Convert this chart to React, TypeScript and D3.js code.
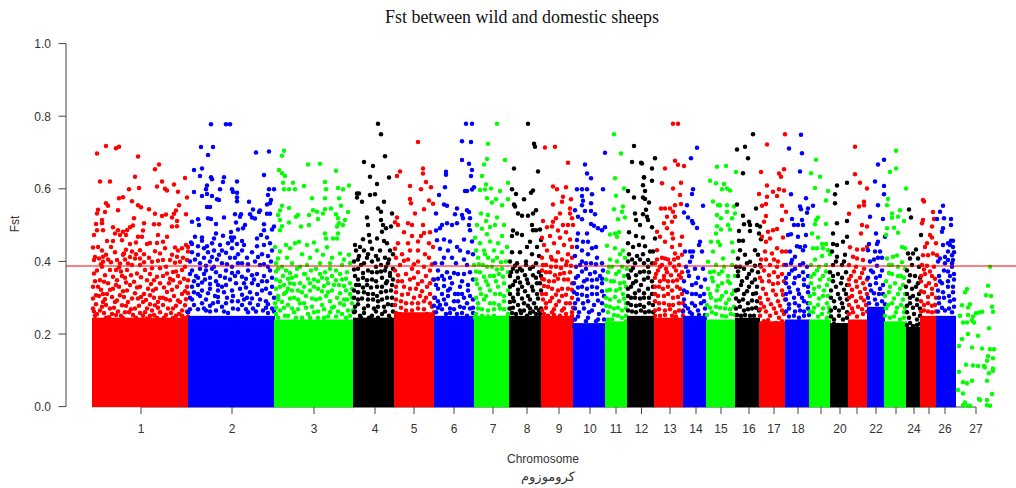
import React from "react";
import * as d3 from "d3";

const title = "Fst between wild and domestic sheeps";
const yTicks = [0, 0.2, 0.4, 0.6, 0.8, 1.0];
const threshold = 0.3873;
const chromNames = Array.from({ length: 27 }, (_, i) => String(i + 1));
const hiddenLabels = ["19", "21", "23", "25"];
// positions along the genome axis
const chromStarts = [0, 96, 182, 261, 302, 342, 382, 417, 449, 481, 513, 535, 562, 591, 614, 643, 667, 693, 717, 738, 756, 775, 792, 814, 828, 844];
const chromEnds = [97, 183, 262, 303, 343, 383, 418, 450, 482, 514, 536, 563, 592, 615, 644, 668, 694, 718, 739, 757, 776, 793, 815, 829, 845, 864];
const chromTicks = [49, 140, 222, 283, 322, 362, 401, 435, 467, 498, 524, 549.5, 578, 604, 629, 657, 682, 706, 729, 748, 765, 784, 804, 822, 837, 853, 884];
// level under which each chromosome's points merge into a solid mass
const denseTops = [0.245, 0.25, 0.24, 0.245, 0.26, 0.25, 0.25, 0.25, 0.25, 0.23, 0.235, 0.25, 0.245, 0.25, 0.24, 0.245, 0.235, 0.24, 0.24, 0.23, 0.24, 0.275, 0.235, 0.22, 0.25, 0.25];
const palette = ["#ff0000", "#0000ff", "#00ff00", "#000000"];

const chr1 = [[5,.697],[14,.718],[24,.712],[27,.716],[46,.689],[67,.667],[63,.654],[43,.633],[93,.63],[8,.62],[18,.62],[70,.62],[82,.612],[65,.606],[37,.599],[47,.602],[73,.6],[75,.595],[86,.592],[95,.576],[31,.577],[27,.574],[40,.566],[14,.56],[26,.541],[16,.553],[46,.555],[49,.549],[57,.544],[87,.555],[6,.542],[5,.532],[13,.536],[84,.54],[82,.531],[63,.531],[74,.529],[70,.525],[94,.53],[42,.519],[10,.514],[80,.521],[67,.502],[62,.502],[4,.503],[52,.505],[85,.511],[85,.497],[10,.505],[80,.496],[41,.499],[38,.494],[35,.486],[21,.494],[26,.486],[31,.482],[5,.486],[11,.486],[2,.473],[51,.485],[66,.473],[75,.468],[28,.473],[50,.468],[46,.468],[23,.477],[34,.473],
[15,.456],[21,.456],[44,.452],[71,.454],[58,.451],[65,.451],[38,.448],[55,.448],[30,.458],[1,.438],[6,.44],[19,.44],[94,.445],[96,.44],[83,.438],[90,.436],[73,.436],[48,.431],[40,.427],[32,.422],[31,.418],[44,.42],[68,.422],[96,.427],[85,.413],[11,.413],[7,.408],[2,.404],[25,.404],[43,.408],[48,.408],[60,.399],[78,.404],[71,.404],[11,.399],[10,.385],[28,.394],[36,.394],[40,.39],[48,.39],[68,.381],[60,.381],[88,.399],[95,.404],[18,.376],[24,.376],[2,.367],[8,.348],[35,.376],[53,.376],[81,.371],[90,.376],[75,.367],[65,.358],[45,.367],[12,.344],[1,.33],[16,.34],[25,.348],[42,.344],[55,.348],[68,.34],[81,.348],[95,.33],[96,.348],[6,.33],[35,.32],[21,.325],[48,.33],[61,.32],[75,.316],[85,.33],[15,.31],[4,.307],[28,.307],[43,.312],[58,.307],[96,.312],[11,.288],[23,.288],[36,.288],[51,.288],[78,.293],[88,.288],[1,.27],[10,.275],[18,.27],[30,.279],[43,.27],[63,.279],[81,.27],[93,.279],[5,.255],[20,.255],[37,.26],[51,.25],[68,.26],[87,.255],[72,.245],[14,.245],[29,.25],[58,.25],[92,.245],[3,.25],[44,.245],[34,.342],[56,.325],[71,.3],[90,.31],[46,.298],[68,.3],[24,.335],[10,.43],[16,.405],[33,.405],[52,.42],[86,.43],[77,.34],[86,.36],[30,.36],[11,.31],[33,.26],[76,.27],[55,.27]];
const chr1x = [[3,.412],[9,.392],[14,.418],[19,.398],[23,.425],[27,.383],[34,.432],[38,.412],[52,.398],[57,.41],[63,.428],[66,.402],[74,.385],[80,.418],[83,.396],[91,.41],[93,.385],[5,.375],[13,.362],[21,.358],[29,.372],[33,.355],[39,.362],[49,.356],[58,.365],[62,.348],[71,.36],[78,.352],[84,.372],[92,.352],[3,.345],[9,.322],[18,.322],[27,.33],[31,.318],[38,.335],[45,.328],[52,.31],[59,.338],[64,.325],[72,.328],[80,.322],[88,.342],[93,.318],[1,.298],[7,.305],[13,.296],[20,.302],[25,.292],[32,.302],[40,.298],[49,.302],[54,.294],[62,.3],[66,.288],[74,.296],[82,.305],[86,.292],[94,.296],[4,.282],[8,.265],[14,.28],[22,.272],[26,.262],[34,.278],[39,.268],[47,.278],[53,.26],[58,.282],[60,.265],[66,.272],[71,.28],[79,.258],[84,.278],[90,.265],[95,.262],[2,.262],[12,.258],[17,.246],[24,.252],[31,.244],[41,.252],[48,.258],[55,.243],[62,.252],[65,.245],[74,.252],[81,.244],[84,.25],[90,.25],[96,.248]];

const chr2 = [[119,.778],[134,.778],[138,.778],[109,.715],[121,.715],[116,.693],[164,.7],[177,.703],[102,.652],[110,.656],[108,.635],[119,.632],[120,.626],[132,.632],[131,.619],[145,.62],[172,.638],[115,.609],[114,.599],[102,.591],[128,.599],[140,.599],[141,.591],[145,.589],[177,.599],[182,.599],[176,.583],[115,.586],[110,.58],[120,.58],[125,.571],[127,.569],[145,.576],[145,.566],[157,.564],[179,.569],[175,.557],[178,.56],[115,.55],[118,.55],[168,.54],[167,.536],[161,.543],[143,.53],[149,.53],[148,.523],[158,.53],[160,.521],[163,.518],[175,.531],[178,.531],[132,.521],[116,.519],[119,.517],[100,.509],[106,.516],[107,.5],[124,.503],[144,.507],[172,.502],[182,.496],[180,.488],[172,.486],[153,.5],[151,.491],[146,.488],[139,.481],[124,.477],[131,.471],[122,.463],[103,.468],[110,.466],[110,.457],[139,.466],[142,.466],[140,.457],[150,.456],[165,.463],[169,.473],[175,.466],[99,.452],[100,.448],[106,.442],[115,.442],[120,.45],[128,.445],[136,.45],[145,.448],[152,.445],[165,.442],[178,.45],[172,.445],
[112,.436],[122,.43],[130,.43],[140,.436],[150,.43],[160,.425],[170,.42],[180,.43],[98,.4],[103,.405],[112,.41],[118,.4],[125,.405],[135,.392],[143,.41],[150,.395],[163,.4],[172,.392],[179,.4],[100,.375],[108,.38],[120,.38],[128,.36],[146,.37],[156,.375],[165,.365],[178,.375],[102,.345],[113,.35],[124,.345],[133,.355],[143,.36],[152,.34],[162,.35],[175,.345],[100,.33],[110,.32],[118,.325],[130,.33],[140,.32],[148,.325],[158,.315],[170,.32],[180,.33],[98,.3],[106,.31],[114,.295],[123,.305],[135,.3],[146,.29],[155,.3],[165,.31],[174,.29],[182,.3],[102,.28],[112,.27],[121,.285],[130,.275],[141,.27],[150,.28],[161,.27],[171,.265],[180,.27],[96,.26],[118,.262],[136,.258],[156,.26],[176,.258],[126,.32],[160,.34],[106,.355],[172,.36],[138,.41],[114,.375],[138,.35]];
const chr2x = [[100,.425],[106,.418],[116,.425],[120,.412],[127,.418],[134,.424],[146,.42],[155,.41],[166,.412],[176,.415],[108,.395],[114,.388],[122,.385],[130,.395],[140,.385],[146,.395],[156,.392],[168,.39],[176,.385],[98,.365],[104,.36],[112,.365],[118,.355],[124,.37],[134,.375],[140,.368],[150,.358],[154,.352],[160,.362],[170,.345],[180,.355],[106,.335],[110,.342],[118,.338],[126,.335],[134,.335],[144,.34],[154,.328],[166,.335],[174,.325],[102,.315],[108,.305],[116,.312],[126,.302],[132,.315],[141,.305],[150,.308],[160,.298],[168,.295],[178,.312],[100,.295],[110,.285],[118,.278],[126,.288],[134,.285],[140,.29],[152,.295],[158,.285],[166,.28],[176,.282],[98,.268],[106,.268],[114,.265],[124,.265],[132,.262],[146,.268],[154,.268],[164,.262],[174,.272],[182,.262]];

const chr3 = [[192,.705],[190,.691],[216,.667],[228,.669],[244,.65],[187,.652],[190,.643],[193,.635],[191,.617],[201,.617],[233,.619],[212,.608],[257,.609],[192,.599],[197,.599],[203,.599],[234,.599],[246,.602],[251,.599],[220,.574],[233,.574],[247,.574],[249,.553],[190,.553],[197,.547],[239,.546],[233,.544],[188,.54],[221,.541],[225,.537],[256,.536],[186,.528],[206,.528],[204,.523],[217,.528],[231,.532],[244,.53],[246,.519],[188,.514],[226,.517],[253,.514],[197,.507],[190,.497],[209,.496],[217,.5],[247,.505],[251,.5],[188,.486],[245,.496],[233,.477],[234,.463],[241,.463],[245,.463],[246,.477],[207,.454],[203,.45],[215,.445],[222,.452],[194,.445],[198,.436],[183,.44],[235,.439],[225,.43],[188,.427],[210,.42],[231,.418],[248,.422],[257,.418],[186,.408],
[195,.41],[218,.41],[240,.41],[252,.405],[184,.395],[200,.395],[215,.39],[228,.395],[238,.395],[250,.39],[258,.395],[186,.38],[194,.375],[205,.38],[224,.38],[233,.37],[244,.375],[255,.37],[191,.36],[200,.355],[213,.365],[222,.35],[230,.355],[240,.36],[250,.35],[184,.35],[208,.34],[218,.34],[236,.34],[247,.335],[258,.34],[188,.33],[196,.325],[206,.32],[226,.325],[240,.32],[254,.32],[186,.305],[192,.31],[202,.3],[214,.305],[224,.295],[234,.305],[245,.3],[255,.295],[183,.285],[196,.28],[208,.285],[220,.275],[230,.28],[242,.275],[252,.28],[260,.285],[188,.265],[202,.26],[216,.255],[226,.262],[238,.26],[250,.255],[258,.25],[193,.25],[210,.245],[232,.245],[184,.255],[212,.365],[198,.34]];
const chr3x = [[190,.385],[198,.368],[208,.385],[219,.375],[228,.365],[238,.38],[248,.365],[184,.372],[196,.352],[204,.36],[216,.352],[226,.345],[235,.352],[244,.348],[254,.352],[188,.345],[192,.335],[202,.338],[212,.33],[222,.33],[232,.332],[242,.335],[252,.332],[260,.325],[184,.325],[194,.315],[200,.32],[210,.315],[218,.32],[230,.318],[236,.315],[248,.312],[258,.31],[186,.295],[190,.288],[198,.298],[206,.295],[212,.285],[220,.298],[228,.298],[238,.29],[248,.285],[252,.295],[260,.3],[184,.272],[192,.272],[200,.27],[206,.268],[214,.272],[222,.26],[232,.268],[240,.272],[246,.262],[256,.265],[186,.245],[196,.25],[204,.245],[218,.245],[226,.245],[236,.248],[244,.248],[254,.245],[261,.265]];

const chr4 = [[286,.779],[289,.75],[293,.69],[272,.674],[281,.663],[278,.633],[297,.631],[285,.613],[265,.587],[267,.587],[278,.583],[283,.585],[265,.576],[270,.564],[292,.564],[286,.546],[289,.537],[300,.532],[275,.521],[289,.514],[276,.5],[291,.5],[299,.496],[294,.491],[290,.482],[271,.461],[277,.473],[285,.463],[292,.456],[263,.445],[268,.44],[278,.454],[295,.45],
[264,.43],[272,.43],[280,.435],[288,.43],[298,.43],[267,.415],[275,.41],[284,.415],[293,.41],[301,.42],[262,.4],[272,.395],[280,.4],[289,.39],[296,.395],[266,.38],[276,.375],[285,.37],[293,.375],[301,.38],[263,.36],[271,.355],[280,.35],[290,.355],[298,.36],[267,.335],[275,.335],[285,.33],[294,.34],[262,.32],[272,.315],[281,.31],[289,.315],[299,.32],[266,.295],[276,.295],[286,.29],[295,.3],[263,.275],[272,.27],[282,.27],[292,.275],[300,.28],[268,.25],[280,.25],[290,.255],[262,.26],[297,.25]];
const chr4x = [[266,.405],[276,.42],[286,.405],[297,.405],[269,.39],[284,.385],[294,.385],[262,.378],[271,.368],[280,.37],[289,.372],[298,.368],[266,.35],[275,.348],[284,.345],[295,.345],[301,.35],[264,.335],[271,.328],[279,.328],[290,.33],[300,.335],[266,.315],[276,.31],[285,.305],[294,.318],[262,.3],[270,.298],[281,.295],[290,.295],[300,.3],[266,.282],[276,.278],[286,.275],[296,.282],[263,.262],[272,.258],[284,.262],[293,.262],[301,.262],[269,.245],[277,.245],[286,.245],[298,.243]];

const chr5 = [[326,.729],[308,.648],[305,.635],[331,.656],[331,.642],[334,.619],[318,.608],[339,.604],[329,.599],[318,.572],[319,.56],[337,.568],[341,.559],[332,.544],[323,.532],[305,.521],[303,.508],[306,.5],[316,.505],[320,.5],[331,.5],[338,.48],[332,.478],[329,.47],[312,.48],[320,.47],[306,.45],[316,.45],[326,.455],[337,.45],[341,.44],[303,.435],[318,.43],[326,.43],[333,.42],[310,.42],[304,.41],[316,.405],[326,.4],[337,.41],
[308,.39],[320,.38],[332,.385],[303,.375],[314,.365],[326,.37],[338,.375],[306,.345],[318,.35],[330,.345],[341,.35],[312,.33],[324,.325],[335,.33],[304,.315],[316,.31],[328,.305],[338,.31],[309,.29],[320,.285],[332,.29],[303,.28],[314,.265],[326,.27],[340,.275],[308,.255],[320,.25],[335,.255]];
const chr5x = [[312,.402],[322,.392],[340,.392],[306,.362],[322,.355],[334,.36],[310,.345],[326,.338],[338,.34],[304,.33],[318,.325],[330,.318],[310,.308],[322,.3],[334,.3],[342,.3],[304,.295],[314,.285],[326,.285],[338,.285],[309,.272],[320,.265],[332,.268],[304,.258],[314,.248],[326,.25],[338,.245],[342,.26]];

const chr6 = [[374,.779],[380,.779],[370,.731],[379,.729],[370,.679],[377,.669],[380,.652],[354,.647],[354,.639],[379,.635],[353,.604],[373,.594],[375,.594],[380,.598],[382,.604],[347,.583],[352,.557],[355,.553],[365,.546],[344,.532],[363,.53],[370,.528],[375,.541],[377,.536],[371,.519],[378,.519],[350,.5],[355,.505],[360,.5],[365,.505],[377,.5],[348,.491],[344,.485],[378,.486],
[345,.458],[352,.46],[358,.455],[365,.44],[372,.46],[380,.455],[348,.435],[356,.43],[368,.43],[376,.425],[352,.41],[360,.41],[372,.405],[381,.42],[343,.395],[350,.395],[364,.395],[375,.39],[346,.375],[355,.37],[366,.365],[378,.37],[342,.35],[352,.35],[360,.34],[370,.345],[381,.35],[346,.325],[356,.32],[366,.31],[376,.32],[343,.3],[352,.295],[362,.29],[372,.3],[381,.295],[348,.28],[358,.27],[368,.275],[378,.27],[344,.26],[354,.255],[365,.255],[375,.25]];
const chr6x = [[346,.352],[350,.36],[358,.355],[362,.368],[372,.365],[344,.335],[352,.332],[358,.325],[368,.33],[376,.335],[350,.31],[356,.305],[363,.31],[370,.31],[378,.305],[346,.29],[354,.282],[366,.29],[375,.285],[342,.278],[350,.268],[362,.268],[372,.272],[381,.272],[346,.272],[358,.258],[370,.258],[381,.258]];

const chr7 = [[405,.779],[396,.724],[395,.682],[413,.679],[392,.667],[390,.635],[416,.617],[394,.612],[388,.597],[393,.598],[399,.601],[408,.594],[395,.574],[404,.571],[416,.571],[400,.562],[410,.555],[389,.532],[396,.528],[405,.521],[394,.511],[403,.5],
[385,.5],[390,.49],[398,.495],[412,.5],[383,.465],[395,.475],[410,.47],[388,.45],[398,.455],[406,.45],[415,.44],[384,.43],[392,.43],[402,.43],[410,.425],[386,.41],[396,.41],[405,.41],[414,.4],[382,.39],[391,.39],[400,.385],[410,.38],[388,.37],[398,.36],[407,.365],[416,.37],[384,.35],[394,.345],[404,.345],[412,.34],[388,.325],[398,.32],[408,.31],[416,.32],[384,.3],[392,.295],[402,.285],[412,.29],[386,.27],[396,.265],[408,.27],[416,.255],[390,.25],[402,.25],[413,.245]];
const chr7x = [[393,.42],[401,.402],[409,.398],[387,.392],[395,.385],[405,.378],[384,.372],[392,.358],[402,.36],[411,.358],[385,.338],[396,.335],[406,.33],[389,.31],[394,.305],[403,.31],[412,.305],[386,.285],[398,.285],[407,.28],[390,.268],[402,.268],[412,.268],[384,.255],[396,.248],[408,.245],[417,.27],[383,.245]];

const chr8 = [[436,.779],[442,.724],[443,.716],[422,.656],[446,.648],[420,.599],[441,.595],[439,.589],[424,.586],[432,.571],[422,.557],[423,.551],[444,.541],[426,.532],[430,.526],[436,.526],[441,.532],[440,.5],[441,.486],[444,.486],[448,.488],[421,.485],[420,.47],[425,.477],[430,.473],[438,.454],[449,.459],
[435,.44],[445,.44],[420,.425],[428,.425],[440,.42],[447,.415],[418,.4],[425,.395],[434,.4],[444,.395],[421,.38],[430,.375],[438,.38],[447,.37],[418,.36],[426,.355],[435,.35],[444,.355],[421,.335],[430,.33],[440,.33],[448,.34],[418,.31],[426,.31],[436,.305],[445,.31],[422,.29],[432,.285],[442,.285],[418,.27],[428,.265],[438,.27],[447,.265],[424,.255],[435,.25],[444,.255]];
const chr8x = [[423,.388],[428,.38],[434,.39],[441,.385],[419,.37],[425,.372],[433,.362],[441,.362],[449,.36],[423,.345],[428,.342],[436,.34],[445,.34],[418,.33],[426,.322],[433,.318],[441,.32],[449,.32],[421,.3],[430,.298],[438,.295],[446,.298],[418,.288],[426,.28],[436,.278],[444,.272],[421,.272],[432,.265],[441,.262],[449,.27],[420,.258],[429,.258],[438,.258],[448,.255]];

const chr9 = [[453,.714],[463,.716],[476,.672],[461,.606],[465,.599],[474,.604],[471,.578],[479,.571],[461,.557],[470,.564],[478,.546],[478,.532],[468,.532],[480,.519],[464,.519],[451,.511],[461,.509],[471,.5],[476,.5],[481,.5],[460,.496],[455,.494],
[466,.485],[474,.48],[450,.465],[458,.47],[468,.465],[478,.46],[452,.445],[462,.45],[472,.445],[480,.44],[455,.43],[466,.425],[476,.42],[450,.41],[460,.405],[470,.405],[480,.41],[454,.39],[464,.385],[474,.39],[450,.375],[458,.37],[468,.365],[478,.37],[452,.35],[462,.345],[472,.35],[480,.34],[456,.33],[466,.32],[476,.325],[450,.31],[460,.3],[470,.305],[480,.3],[454,.285],[464,.28],[474,.285],[450,.265],[460,.26],[470,.265],[480,.26],[456,.25],[468,.25]];
const chr9x = [[459,.412],[464,.402],[475,.4],[451,.39],[459,.385],[469,.382],[479,.388],[454,.37],[463,.362],[472,.368],[450,.352],[457,.345],[466,.352],[476,.35],[452,.332],[460,.325],[470,.325],[480,.322],[454,.31],[464,.308],[474,.308],[451,.295],[458,.29],[467,.29],[478,.285],[454,.272],[462,.268],[472,.27],[481,.272],[452,.255],[462,.252],[474,.255],[480,.25]];

const chr10 = [[513,.699],[493,.667],[495,.642],[499,.629],[485,.599],[490,.599],[495,.599],[500,.585],[511,.599],[490,.58],[491,.567],[490,.555],[499,.56],[483,.541],[493,.539],[499,.539],[503,.53],[486,.523],[490,.516],[499,.503],[502,.498],[506,.491],[513,.494],[510,.486],[486,.477],[495,.477],[485,.459],[491,.454],[496,.454],[500,.436],
[485,.44],[490,.43],[504,.44],[496,.42],[483,.415],[505,.41],[490,.4],[499,.395],[510,.395],[484,.385],[494,.38],[503,.37],[511,.375],[486,.36],[495,.35],[505,.35],[482,.34],[490,.33],[500,.33],[510,.34],[485,.31],[495,.305],[505,.31],[512,.305],[483,.285],[491,.285],[502,.28],[510,.285],[487,.26],[497,.26],[507,.255],[483,.24],[494,.235],[504,.235],[512,.24],[488,.22]];
const chr10x = [[488,.39],[494,.395],[504,.392],[490,.372],[498,.365],[508,.36],[484,.355],[492,.345],[500,.348],[510,.352],[486,.328],[495,.325],[505,.328],[482,.315],[490,.308],[500,.31],[510,.318],[486,.295],[496,.29],[506,.292],[483,.27],[492,.27],[500,.265],[511,.265],[486,.248],[496,.245],[506,.24],[482,.222],[492,.222],[500,.22],[510,.222]];

const chr11 = [[522,.75],[529,.697],[523,.629],[532,.601],[524,.581],[522,.544],[531,.551],[530,.537],[533,.521],[526,.516],[518,.474],[523,.477],[527,.48],[525,.468],[515,.443],[523,.436],[531,.43],[528,.42],[518,.405],[525,.4],[533,.41],[520,.385],[530,.385],[535,.38],[516,.37],[524,.365],[532,.36],[519,.345],[528,.34],[534,.33],[515,.32],[524,.32],[531,.31],[518,.295],[527,.29],[534,.285],[522,.27],[530,.265],[516,.26],[526,.25],[534,.25],[520,.24]];
const chr11x = [[517,.385],[527,.372],[514,.35],[522,.345],[532,.342],[518,.322],[528,.325],[514,.3],[523,.302],[532,.298],[518,.275],[526,.272],[534,.27],[514,.278],[522,.252],[530,.245],[516,.24],[534,.235]];

const chr12 = [[542,.718],[540,.674],[549,.672],[552,.631],[551,.61],[536,.594],[553,.594],[542,.576],[551,.576],[553,.572],[543,.532],[551,.53],[555,.523],[544,.514],[548,.5],[550,.67],[563,.684],[560,.656],[552,.632],[560,.622],[557,.562],[554,.542],[556,.514],[560,.494],[551,.466],[563,.463],[553,.442],[558,.427],[561,.427],[556,.404],
[537,.48],[544,.47],[536,.45],[541,.44],[547,.445],[537,.42],[545,.415],[551,.42],[536,.4],[543,.395],[552,.395],[560,.395],[539,.375],[548,.37],[557,.37],[537,.355],[544,.345],[552,.35],[560,.345],[539,.33],[547,.32],[556,.325],[536,.305],[543,.3],[552,.3],[560,.31],[539,.28],[548,.28],[557,.285],[536,.265],[544,.26],[553,.26],[561,.26]];
const chr12x = [[540,.405],[548,.405],[556,.385],[541,.382],[552,.372],[536,.362],[544,.362],[556,.355],[541,.34],[549,.335],[561,.33],[536,.325],[543,.312],[552,.312],[539,.3],[548,.298],[557,.3],[536,.285],[544,.278],[552,.275],[561,.28],[540,.262],[549,.265],[557,.262]];

const chr13 = [[581,.779],[586,.779],[583,.677],[586,.666],[573,.656],[592,.663],[570,.615],[589,.617],[581,.601],[588,.583],[583,.555],[589,.558],[569,.546],[573,.546],[578,.546],[581,.537],[575,.523],[583,.523],[572,.505],[580,.509],[575,.491],[565,.482],[580,.477],[590,.468],[568,.468],[573,.454],[581,.463],[588,.445],[565,.431],[580,.44],[583,.422],[590,.418],[573,.408],
[563,.395],[570,.39],[578,.395],[587,.39],[566,.375],[575,.37],[584,.375],[590,.37],[563,.355],[572,.35],[581,.345],[589,.355],[567,.33],[576,.33],[585,.33],[563,.31],[572,.305],[581,.3],[590,.31],[567,.285],[577,.28],[587,.285],[563,.265],[573,.265],[583,.26],[591,.265],[568,.25],[580,.25]];
const chr13x = [[570,.41],[576,.405],[582,.405],[565,.405],[586,.41],[568,.385],[574,.38],[582,.385],[564,.365],[572,.36],[579,.362],[587,.362],[568,.345],[576,.345],[585,.348],[563,.33],[571,.325],[580,.32],[588,.325],[566,.305],[576,.31],[586,.302],[563,.29],[572,.285],[581,.28],[591,.285],[567,.268],[578,.268],[587,.265],[563,.25],[573,.252],[584,.248],[591,.25]];

const chr14 = [[605,.713],[599,.684],[601,.599],[600,.586],[595,.555],[611,.553],[592,.535],[596,.521],[600,.511],[601,.505],[605,.492],[608,.454],[607,.445],[610,.427],[593,.427],[598,.427],[601,.427],[600,.413],[598,.399],
[594,.385],[603,.38],[611,.38],[597,.36],[606,.355],[613,.35],[592,.345],[600,.335],[609,.33],[595,.315],[604,.31],[612,.31],[592,.295],[600,.285],[609,.285],[596,.27],[606,.265],[613,.27],[600,.255]];
const chr14x = [[596,.372],[604,.34],[592,.32],[600,.31],[608,.305],[593,.278],[603,.278],[612,.29],[591,.262],[598,.26],[607,.252],[613,.252]];

const chr15 = [[625,.661],[634,.663],[644,.646],[618,.622],[624,.615],[632,.613],[630,.599],[635,.601],[638,.595],[621,.565],[626,.555],[628,.555],[635,.555],[642,.551],[635,.537],[643,.532],[625,.528],[629,.519],[640,.519],[636,.5],[638,.488],[625,.497],[629,.488],[624,.477],[619,.454],[626,.454],[628,.445],[640,.452],[621,.427],[631,.408],[641,.427],[616,.399],
[624,.39],[632,.385],[640,.39],[618,.37],[627,.365],[636,.36],[643,.36],[621,.345],[630,.34],[638,.34],[616,.325],[625,.32],[634,.315],[642,.32],[619,.3],[628,.295],[637,.295],[615,.28],[624,.275],[633,.27],[642,.275],[620,.26],[630,.25],[639,.255]];
const chr15x = [[622,.372],[630,.372],[620,.355],[636,.345],[626,.332],[618,.31],[630,.305],[640,.31],[624,.292],[634,.285],[618,.272],[628,.272],[638,.268],[615,.252],[624,.255],[634,.248],[643,.252]];

const chr16 = [[661,.75],[653,.716],[645,.708],[656,.684],[651,.643],[645,.557],[664,.546],[651,.526],[657,.509],[658,.5],[652,.502],[665,.5],[668,.496],[647,.484],[658,.484],[667,.477],[647,.457],[651,.457],[669,.461],[648,.431],[663,.431],[653,.418],[666,.418],[646,.408],[658,.399],[668,.39],
[644,.385],[652,.38],[660,.375],[666,.37],[646,.36],[655,.355],[663,.35],[649,.335],[657,.33],[665,.33],[644,.32],[652,.31],[661,.31],[647,.29],[656,.285],[665,.29],[644,.27],[652,.265],[660,.27],[667,.265],[649,.25],[658,.25]];
const chr16x = [[648,.385],[655,.395],[663,.388],[646,.372],[657,.365],[650,.345],[660,.342],[646,.322],[655,.318],[664,.312],[651,.295],[660,.292],[644,.298],[648,.275],[656,.268],[664,.272],[645,.252],[653,.252],[662,.25]];

const chr17 = [[693,.75],[675,.722],[669,.646],[692,.654],[687,.642],[689,.633],[675,.609],[667,.586],[687,.599],[692,.595],[681,.592],[685,.58],[675,.578],[674,.558],[670,.553],[690,.553],[694,.537],[674,.525],[690,.514],[672,.509],[685,.489],[681,.486],[676,.482],[670,.468],[678,.463],[691,.466],[674,.454],[685,.436],[690,.427],[694,.427],[680,.422],[673,.427],
[669,.405],[686,.4],[678,.39],[692,.39],[672,.375],[682,.37],[690,.365],[668,.355],[677,.345],[686,.34],[692,.345],[671,.325],[681,.32],[690,.32],[668,.3],[676,.295],[686,.29],[693,.295],[672,.275],[682,.27],[690,.265],[668,.25],[678,.25],[687,.245],[672,.235],[684,.23]];
const chr17x = [[674,.405],[682,.405],[669,.385],[685,.385],[677,.362],[686,.358],[670,.345],[681,.338],[674,.31],[684,.308],[691,.308],[669,.285],[679,.282],[688,.278],[674,.262],[684,.258],[692,.255],[668,.268],[676,.238],[690,.235]];

const chr18 = [[709,.749],[697,.711],[710,.698],[708,.648],[699,.585],[714,.574],[708,.551],[709,.544],[716,.546],[721,.553],[715,.534],[700,.517],[702,.5],[706,.5],[711,.5],[710,.514],[696,.473],[699,.475],[706,.468],[714,.473],[708,.44],[713,.442],[705,.442],[711,.431],[703,.413],[700,.404],[698,.427],[711,.395],
[694,.39],[703,.38],[715,.385],[697,.365],[707,.36],[716,.36],[694,.34],[702,.34],[712,.335],[698,.315],[707,.31],[716,.315],[694,.295],[703,.285],[712,.29],[697,.27],[708,.265],[716,.27],[702,.25],[712,.25]];
const chr18x = [[699,.395],[708,.39],[700,.375],[711,.37],[694,.355],[703,.355],[712,.35],[697,.328],[706,.322],[716,.33],[694,.31],[702,.3],[710,.3],[697,.282],[707,.278],[716,.285],[694,.262],[703,.262],[712,.262],[697,.248],[707,.245],[717,.252]];

const chr19 = [[724,.68],[719,.643],[728,.633],[723,.602],[736,.594],[734,.568],[724,.514],[726,.521],[734,.503],[723,.502],[720,.477],[726,.466],[730,.448],[734,.448],[721,.436],[725,.436],[731,.436],[736,.431],[723,.405],[730,.415],[738,.42],[719,.39],[727,.385],[734,.39],[722,.365],[731,.36],[737,.35],[719,.34],[727,.33],[735,.335],[722,.31],[731,.305],[718,.285],[726,.28],[735,.285],[721,.26],[730,.255],[737,.26]];
const chr19x = [[725,.375],[734,.372],[719,.358],[728,.35],[722,.325],[732,.32],[718,.305],[727,.298],[736,.305],[722,.272],[731,.27],[737,.272],[718,.262],[726,.248],[735,.245]];

const chr20 = [[745,.609],[755,.617],[743,.585],[743,.56],[755,.511],[745,.505],[741,.477],[755,.468],[751,.454],[741,.448],[745,.445],[740,.427],[753,.418],[745,.413],[741,.39],[750,.39],[738,.37],[746,.365],[754,.37],[741,.345],[749,.34],[755,.335],[739,.32],[746,.31],[754,.31],[742,.29],[750,.285],[739,.265],[747,.265],[755,.26],[742,.24],[751,.24],[746,.225]];
const chr20x = [[744,.4],[752,.4],[741,.36],[750,.355],[744,.33],[752,.322],[739,.3],[748,.298],[755,.295],[743,.272],[751,.272],[739,.248],[747,.25],[755,.245],[742,.228],[752,.225]];

const chr21 = [[757,.531],[763,.716],[763,.64],[768,.617],[775,.601],[767,.551],[772,.564],[772,.555],[770,.5],[775,.496],[769,.477],[765,.433],[771,.433],[758,.439],[761,.413],[765,.408],[775,.44],[771,.404],[757,.39],[764,.385],[772,.38],[759,.36],[768,.355],[775,.35],[757,.335],[765,.33],[773,.325],[760,.305],[769,.3],[757,.28],[766,.275],[774,.28],[761,.26],[771,.255]];
const chr21x = [[762,.372],[770,.368],[757,.35],[764,.345],[771,.34],[760,.322],[768,.315],[775,.31],[757,.3],[764,.29],[772,.292],[760,.27],[770,.268],[775,.262],[757,.255],[765,.248]];

const chr22 = [[786,.667],[792,.68],[783,.62],[792,.608],[792,.585],[786,.555],[778,.523],[791,.517],[784,.477],[793,.468],[786,.454],[785,.448],[777,.448],[783,.427],[788,.427],[776,.431],[785,.388],[778,.4],[790,.41],[781,.37],[788,.36],[776,.355],[784,.34],[791,.335],[779,.32],[787,.31],[776,.3],[783,.295],[790,.29]];
const chr22x = [[782,.405],[786,.41],[779,.375],[790,.375],[784,.355],[778,.335],[788,.325],[782,.312],[791,.31],[777,.285],[785,.282],[793,.282]];

const chr23 = [[804,.705],[804,.656],[798,.646],[814,.601],[796,.572],[795,.555],[808,.541],[800,.532],[800,.52],[806,.523],[812,.511],[795,.491],[802,.493],[806,.479],[794,.473],[810,.44],[813,.436],[795,.408],[801,.413],[805,.416],[797,.39],[806,.385],[813,.38],[800,.365],[809,.36],[794,.345],[803,.34],[811,.335],[797,.315],[806,.31],[813,.31],[800,.285],[809,.28],[794,.27],[804,.26],[812,.26],[798,.245],[808,.24]];
const chr23x = [[800,.39],[810,.398],[797,.368],[806,.36],[812,.355],[798,.33],[808,.325],[793,.305],[802,.298],[811,.295],[796,.28],[805,.272],[813,.272],[793,.25],[802,.248],[812,.245]];

const chr24 = [[817,.543],[819,.521],[829,.473],[824,.433],[816,.422],[821,.422],[818,.408],[826,.408],[820,.39],[827,.385],[815,.375],[823,.36],[828,.355],[817,.345],[824,.33],[815,.31],[821,.305],[827,.31],[818,.285],[825,.28],[815,.26],[822,.255],[828,.25],[818,.23],[825,.225]];
const chr24x = [[818,.362],[826,.34],[820,.325],[814,.33],[818,.3],[825,.295],[815,.278],[821,.272],[828,.27],[817,.245],[825,.24],[815,.225],[821,.222],[828,.228]];

const chr25 = [[831,.569],[832,.565],[841,.536],[831,.514],[830,.505],[842,.517],[840,.496],[838,.473],[840,.466],[844,.45],[835,.45],[833,.44],[831,.417],[836,.417],[841,.422],[845,.417],[835,.388],[830,.39],[842,.385],[833,.365],[840,.36],[829,.345],[837,.34],[844,.335],[832,.315],[840,.31],[829,.29],[836,.285],[843,.28],[832,.265],[840,.26]];
const chr25x = [[832,.378],[838,.372],[829,.36],[843,.352],[834,.332],[840,.325],[829,.318],[836,.302],[844,.3],[832,.28],[840,.278],[829,.262],[836,.262],[844,.262]];

const chr26 = [[851,.553],[848,.537],[845,.517],[852,.519],[859,.517],[859,.5],[851,.491],[850,.482],[859,.457],[861,.457],[856,.45],[851,.445],[861,.44],[856,.427],[860,.417],[848,.408],[856,.404],[861,.404],[853,.395],[846,.4],[860,.385],[852,.375],[847,.36],[858,.36],[862,.35],[850,.34],[856,.33],[846,.32],[861,.315],[852,.3],[858,.29],[847,.285],[862,.275],[853,.265],[860,.26]];
const chr26x = [[858,.445],[862,.425],[853,.412],[860,.395],[856,.372],[862,.365],[848,.345],[856,.345],[861,.33],[851,.315],[857,.305],[847,.3],[862,.295],[850,.272],[857,.27],[846,.262]];

const chr27 = [[898,.385],[896,.333],[875,.324],[873,.315],[894,.307],[899,.305],[870,.279],[878,.282],[876,.273],[900,.275],[901,.261],[890,.261],[887,.259],[884,.257],[868,.25],[876,.252],[881,.248],[871,.232],[875,.232],[882,.232],[880,.238],[897,.216],[876,.2],[886,.195],[870,.186],[867,.167],[880,.163],[890,.16],[898,.158],[902,.158],[896,.139],[901,.133],[895,.126],[874,.115],[881,.113],[886,.112],[892,.112],[893,.108],[901,.105],[901,.099],[867,.096],[897,.092],[880,.071],[871,.067],[875,.064],[895,.071],[866,.046],[871,.036],[900,.035],[887,.021],[888,.018],[895,.018],[873,.011],[871,.004],[878,.002],[876,.002],[895,.004],[898,.002]];

const chromPoints = [chr1.concat(chr1x), chr2.concat(chr2x), chr3.concat(chr3x), chr4.concat(chr4x), chr5.concat(chr5x), chr6.concat(chr6x), chr7.concat(chr7x), chr8.concat(chr8x), chr9.concat(chr9x), chr10.concat(chr10x), chr11.concat(chr11x), chr12.concat(chr12x), chr13.concat(chr13x), chr14.concat(chr14x), chr15.concat(chr15x), chr16.concat(chr16x), chr17.concat(chr17x), chr18.concat(chr18x), chr19.concat(chr19x), chr20.concat(chr20x), chr21.concat(chr21x), chr22.concat(chr22x), chr23.concat(chr23x), chr24.concat(chr24x), chr25.concat(chr25x), chr26.concat(chr26x), chr27];

const sansFont = "'Liberation Sans', Arial, sans-serif";
const axisColor = "#444";

export default function App() {
  const x = d3.scaleLinear().domain([-26, 924]).range([66, 1016]);
  const y = d3.scaleLinear().domain([0, 1]).range([406.6, 43.6]);
  const xAxisY = y(0) + 0.4;
  return (
    <svg width={1016} height={488} style={{ position: "absolute", left: 0, top: 0, background: "#fff" }}>
      <text x={522} y={23} textAnchor="middle" fontFamily="'Liberation Serif', 'Times New Roman', serif" fontSize={17.9} fill="#111">{title}</text>
      <g stroke={axisColor} fill="none">
        <line x1={66} x2={66} y1={y(1)} y2={y(0)} />
        {yTicks.map((t) => (
          <line key={t} x1={58.5} x2={66} y1={y(t)} y2={y(t)} />
        ))}
        <line x1={x(chromTicks[0])} x2={x(chromTicks[26])} y1={xAxisY} y2={xAxisY} />
        {chromTicks.map((t, i) => (
          <line key={i} x1={x(t)} x2={x(t)} y1={xAxisY} y2={xAxisY + 7} />
        ))}
      </g>
      {chromPoints.map((pts, i) => (
        <g key={i} fill={palette[i % 4]}>
          {i < denseTops.length && (
            <rect x={x(chromStarts[i])} width={x(chromEnds[i]) - x(chromStarts[i])} y={y(denseTops[i])} height={y(0) - y(denseTops[i]) + 0.6} />
          )}
          {pts.map((p, j) => (
            <circle key={j} cx={x(p[0])} cy={y(p[1])} r={2.25} />
          ))}
        </g>
      ))}
      <line x1={66} x2={1016} y1={y(threshold)} y2={y(threshold)} stroke="#ff0000" strokeWidth={1} />
      <g fontFamily={sansFont} fontSize={12} fill="#333">
        {yTicks.map((t) => (
          <text key={t} x={51} y={y(t) + 4.5} textAnchor="end">{t.toFixed(1)}</text>
        ))}
        {chromNames.map((n, i) =>
          hiddenLabels.includes(n) ? null : (
            <text key={n} x={x(chromTicks[i])} y={433} textAnchor="middle">{n}</text>
          )
        )}
        <text x={543} y={463} textAnchor="middle">Chromosome</text>
        <text transform="translate(19,224) rotate(-90)" textAnchor="middle">Fst</text>
      </g>
      <text x={548} y={481} textAnchor="middle" fontFamily="'DejaVu Sans', 'Noto Sans', sans-serif" fontSize={13} fill="#333" direction="rtl">کروموزوم</text>
    </svg>
  );
}
